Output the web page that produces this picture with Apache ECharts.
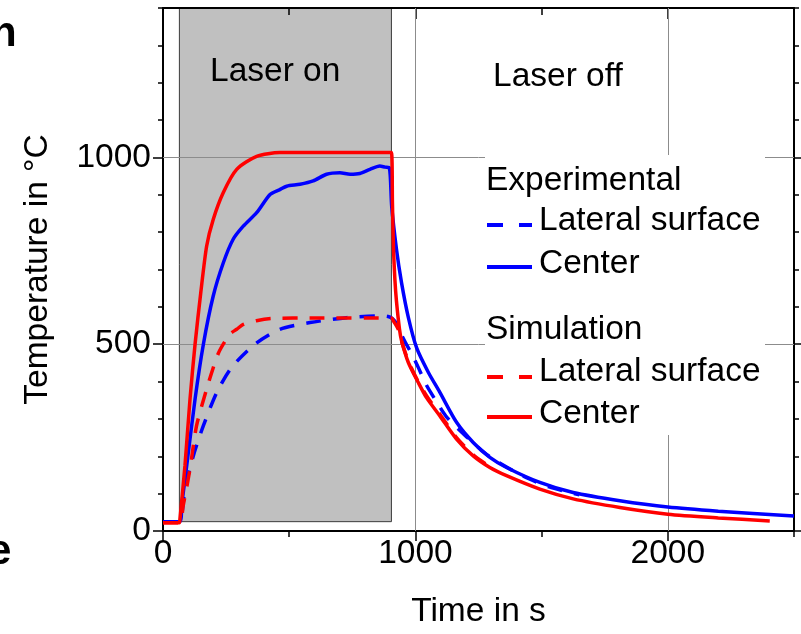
<!DOCTYPE html>
<html>
<head>
<meta charset="utf-8">
<script src="https://cdn.jsdelivr.net/npm/echarts@6/dist/echarts.min.js"></script>
<style>
  html, body { margin: 0; padding: 0; background: #ffffff; }
  #chart { width: 801px; height: 634px; }
</style>
</head>
<body>
<div id="chart"></div>
<script>
// Axis ranges and tick values
const xMin = 0, xMax = 2500;
const yMin = 0, yMax = 1400;
const xMajorTicks = [0, 1000, 2000];
const yMajorTicks = [0, 500, 1000];
const xGridLines = [1000, 2000];
const yGridLines = [500, 1000];

// Laser heating period (s) and the room-temperature floor of the shaded box (°C)
const laserOn = [65, 905];
const laserBase = 25;

// Experimental, lateral surface
const expLateralTime = [0, 66, 74, 87, 120, 160, 213, 272, 364, 463, 582, 727, 859, 892, 910, 925, 937, 960, 985, 1010, 1044, 1080, 1124, 1203, 1300, 1430, 1530, 1650];
const expLateralTemp = [25, 25, 41, 112, 201, 282, 371, 438, 500, 540, 558, 571, 576, 574, 568, 555, 536, 505, 475, 440, 390, 350, 305, 252, 196, 146, 118, 97];

// Experimental, center
const expCenterTime = [0, 66, 75, 94, 127, 160, 199, 239, 278, 318, 371, 424, 463, 490, 543, 595, 648, 701, 741, 780, 820, 859, 880, 897, 906, 925, 945, 972, 1005, 1051, 1097, 1163, 1229, 1295, 1361, 1493, 1625, 1810, 2000, 2200, 2500];
const expCenterTemp = [25, 25, 75, 175, 353, 500, 629, 718, 781, 816, 852, 901, 914, 923, 928, 937, 955, 959, 955, 957, 968, 977, 974, 972, 870, 754, 665, 572, 490, 425, 371, 291, 237, 197, 170, 130, 103, 81, 64, 53, 40];

// Simulation, lateral surface
const simLateralTime = [0, 65, 80, 107, 133, 173, 219, 265, 292, 318, 370, 430, 600, 905, 915, 932, 945, 972, 1011, 1050, 1100, 1163, 1229, 1300];
const simLateralTemp = [22, 22, 68, 166, 282, 380, 475, 527, 540, 553, 563, 569, 570, 570, 560, 540, 508, 455, 400, 356, 310, 250, 204, 170];

// Simulation, center
const simCenterTime = [0, 64, 67, 87, 107, 127, 150, 173, 199, 239, 292, 371, 463, 600, 905, 909, 913, 919, 925, 937, 945, 972, 1011, 1044, 1097, 1163, 1229, 1295, 1361, 1493, 1625, 1810, 2000, 2200, 2404];
const simCenterTemp = [22, 22, 30, 175, 353, 500, 640, 763, 834, 906, 968, 1003, 1013, 1013, 1013, 880, 760, 670, 615, 540, 510, 451, 398, 357, 308, 246, 201, 170, 148, 112, 86, 63, 45, 35, 27];

const FONT = "'Liberation Sans', Arial, Helvetica, sans-serif";
const FONT_SIZE = 33.5;
const BLUE = '#0000ff';
const RED = '#ff0000';
const DASH = [15, 12];

function pairs(xs, ys) {
  return xs.map((x, i) => [x, ys[i]]);
}

const plainNumber = v => String(v);
const tickLine = { color: '#000', width: 1.5 };
const baseLine = { show: true, onZero: false, lineStyle: { color: '#000', width: 2 } };
const noLine = { show: false, onZero: false };
const labelStyle = { fontSize: FONT_SIZE, fontFamily: FONT, color: '#000' };
const textFont = FONT_SIZE + 'px ' + FONT;

function curve(name, xs, ys, color, dashed, z) {
  return {
    type: 'line', name: name, xAxisIndex: 1, yAxisIndex: 1, z: z,
    data: pairs(xs, ys), showSymbol: false, symbol: 'none',
    smooth: 0.25, silent: true,
    lineStyle: { color: color, width: 3.5, type: dashed ? DASH : 'solid' }
  };
}

const chart = echarts.init(document.getElementById('chart'), null, { renderer: 'canvas' });

const option = {
  animation: false,
  backgroundColor: '#ffffff',
  grid: { left: 163, top: 8, right: 7, bottom: 102, containLabel: false },
  xAxis: [
    { type: 'value', position: 'bottom', min: xMin, max: xMax, interval: 500, z: 1,
      axisLine: baseLine, axisTick: { show: true, length: 6, lineStyle: tickLine },
      axisLabel: { show: false }, splitLine: { show: false } },
    { type: 'value', position: 'bottom', min: xMin, max: xMax, interval: 500, z: 1,
      axisLine: noLine,
      axisTick: { show: true, length: 10, customValues: xMajorTicks, lineStyle: tickLine },
      axisLabel: Object.assign({ show: true, customValues: xMajorTicks, margin: 6, formatter: plainNumber }, labelStyle),
      splitLine: { show: false },
      name: 'Time in s', nameLocation: 'middle', nameGap: 64,
      nameTextStyle: labelStyle },
    { type: 'value', position: 'top', min: xMin, max: xMax, interval: 500, z: 1,
      axisLine: baseLine, axisTick: { show: true, inside: true, length: 7, lineStyle: tickLine },
      axisLabel: { show: false }, splitLine: { show: false } },
    { type: 'value', position: 'top', min: xMin, max: xMax, interval: 500, z: 1,
      axisLine: noLine,
      axisTick: { show: true, inside: true, length: 11, customValues: xMajorTicks, lineStyle: tickLine },
      axisLabel: { show: false, customValues: xMajorTicks }, splitLine: { show: false } }
  ],
  yAxis: [
    { type: 'value', position: 'left', min: yMin, max: yMax, interval: 100, z: 1,
      axisLine: baseLine, axisTick: { show: true, length: 5, lineStyle: tickLine },
      axisLabel: { show: false }, splitLine: { show: false } },
    { type: 'value', position: 'left', min: yMin, max: yMax, interval: 100, z: 1,
      axisLine: noLine,
      axisTick: { show: true, length: 10, customValues: yMajorTicks, lineStyle: tickLine },
      axisLabel: Object.assign({ show: true, customValues: yMajorTicks, margin: 12, formatter: plainNumber }, labelStyle),
      splitLine: { show: false },
      name: 'Temperature in °C', nameLocation: 'middle', nameGap: 108,
      nameTextStyle: labelStyle },
    { type: 'value', position: 'right', min: yMin, max: yMax, interval: 100, z: 1,
      axisLine: baseLine, axisTick: { show: true, length: 5, lineStyle: tickLine },
      axisLabel: { show: false }, splitLine: { show: false } },
    { type: 'value', position: 'right', min: yMin, max: yMax, interval: 100, z: 1,
      axisLine: noLine,
      axisTick: { show: true, length: 10, customValues: yMajorTicks, lineStyle: tickLine },
      axisLabel: { show: false, customValues: yMajorTicks }, splitLine: { show: false } }
  ],
  series: [
    // shaded laser-on period
    { type: 'line', name: 'Laser on', xAxisIndex: 1, yAxisIndex: 1, data: [], z: 0, silent: true,
      markArea: {
        silent: true, z: 0.5,
        label: { show: false },
        itemStyle: { color: '#c0c0c0', borderColor: '#3c3c3c', borderWidth: 1 },
        data: [[{ coord: [laserOn[0], laserBase] }, { coord: [laserOn[1], yMax] }]]
      } },
    // grid lines
    { type: 'line', name: 'grid', xAxisIndex: 1, yAxisIndex: 1, data: [], z: 1, silent: true,
      markLine: {
        silent: true, z: 1.5, symbol: ['none', 'none'],
        label: { show: false },
        emphasis: { disabled: true },
        lineStyle: { color: '#8c8c8c', width: 1, type: 'solid' },
        data: xGridLines.map(v => ({ xAxis: v })).concat(yGridLines.map(v => ({ yAxis: v })))
      } },
    curve('Experimental – Lateral surface', expLateralTime, expLateralTemp, BLUE, true, 3),
    curve('Experimental – Center', expCenterTime, expCenterTemp, BLUE, false, 3),
    curve('Simulation – Lateral surface', simLateralTime, simLateralTemp, RED, true, 4),
    curve('Simulation – Center', simCenterTime, simCenterTemp, RED, false, 4)
  ],
  graphic: [
    // annotations of the two phases
    { type: 'text', z: 50, silent: true,
      style: { text: 'Laser on', x: 210, y: 72, fill: '#000', font: textFont, align: 'left', verticalAlign: 'middle' } },
    { type: 'text', z: 50, silent: true,
      style: { text: 'Laser off', x: 493, y: 77, fill: '#000', font: textFont, align: 'left', verticalAlign: 'middle' } },
    // legend box
    { type: 'rect', z: 100, silent: true, shape: { x: 485, y: 155, width: 280, height: 280 },
      style: { fill: '#ffffff' } },
    { type: 'text', z: 101, silent: true,
      style: { text: 'Experimental', x: 486, y: 181, fill: '#000', font: textFont, align: 'left', verticalAlign: 'middle' } },
    { type: 'line', z: 101, silent: true, shape: { x1: 487, y1: 225, x2: 532, y2: 225 },
      style: { stroke: BLUE, lineWidth: 4, lineDash: [16, 16] } },
    { type: 'text', z: 101, silent: true,
      style: { text: 'Lateral surface', x: 539, y: 221, fill: '#000', font: textFont, align: 'left', verticalAlign: 'middle' } },
    { type: 'line', z: 101, silent: true, shape: { x1: 487, y1: 267, x2: 532, y2: 267 },
      style: { stroke: BLUE, lineWidth: 4 } },
    { type: 'text', z: 101, silent: true,
      style: { text: 'Center', x: 539, y: 264, fill: '#000', font: textFont, align: 'left', verticalAlign: 'middle' } },
    { type: 'text', z: 101, silent: true,
      style: { text: 'Simulation', x: 486, y: 330, fill: '#000', font: textFont, align: 'left', verticalAlign: 'middle' } },
    { type: 'line', z: 101, silent: true, shape: { x1: 487, y1: 377, x2: 532, y2: 377 },
      style: { stroke: RED, lineWidth: 4, lineDash: [16, 16] } },
    { type: 'text', z: 101, silent: true,
      style: { text: 'Lateral surface', x: 539, y: 372, fill: '#000', font: textFont, align: 'left', verticalAlign: 'middle' } },
    { type: 'line', z: 101, silent: true, shape: { x1: 487, y1: 417, x2: 532, y2: 417 },
      style: { stroke: RED, lineWidth: 4 } },
    { type: 'text', z: 101, silent: true,
      style: { text: 'Center', x: 539, y: 414, fill: '#000', font: textFont, align: 'left', verticalAlign: 'middle' } },
    // panel lettering at the left page edge
    { type: 'text', z: 101, silent: true,
      style: { text: 'n', x: -9, y: 34, fill: '#000', font: 'bold 42px ' + FONT, align: 'left', verticalAlign: 'middle' } },
    { type: 'text', z: 101, silent: true,
      style: { text: 'e', x: -12, y: 552, fill: '#000', font: 'bold 42px ' + FONT, align: 'left', verticalAlign: 'middle' } }
  ]
};

chart.setOption(option);
</script>
</body>
</html>
